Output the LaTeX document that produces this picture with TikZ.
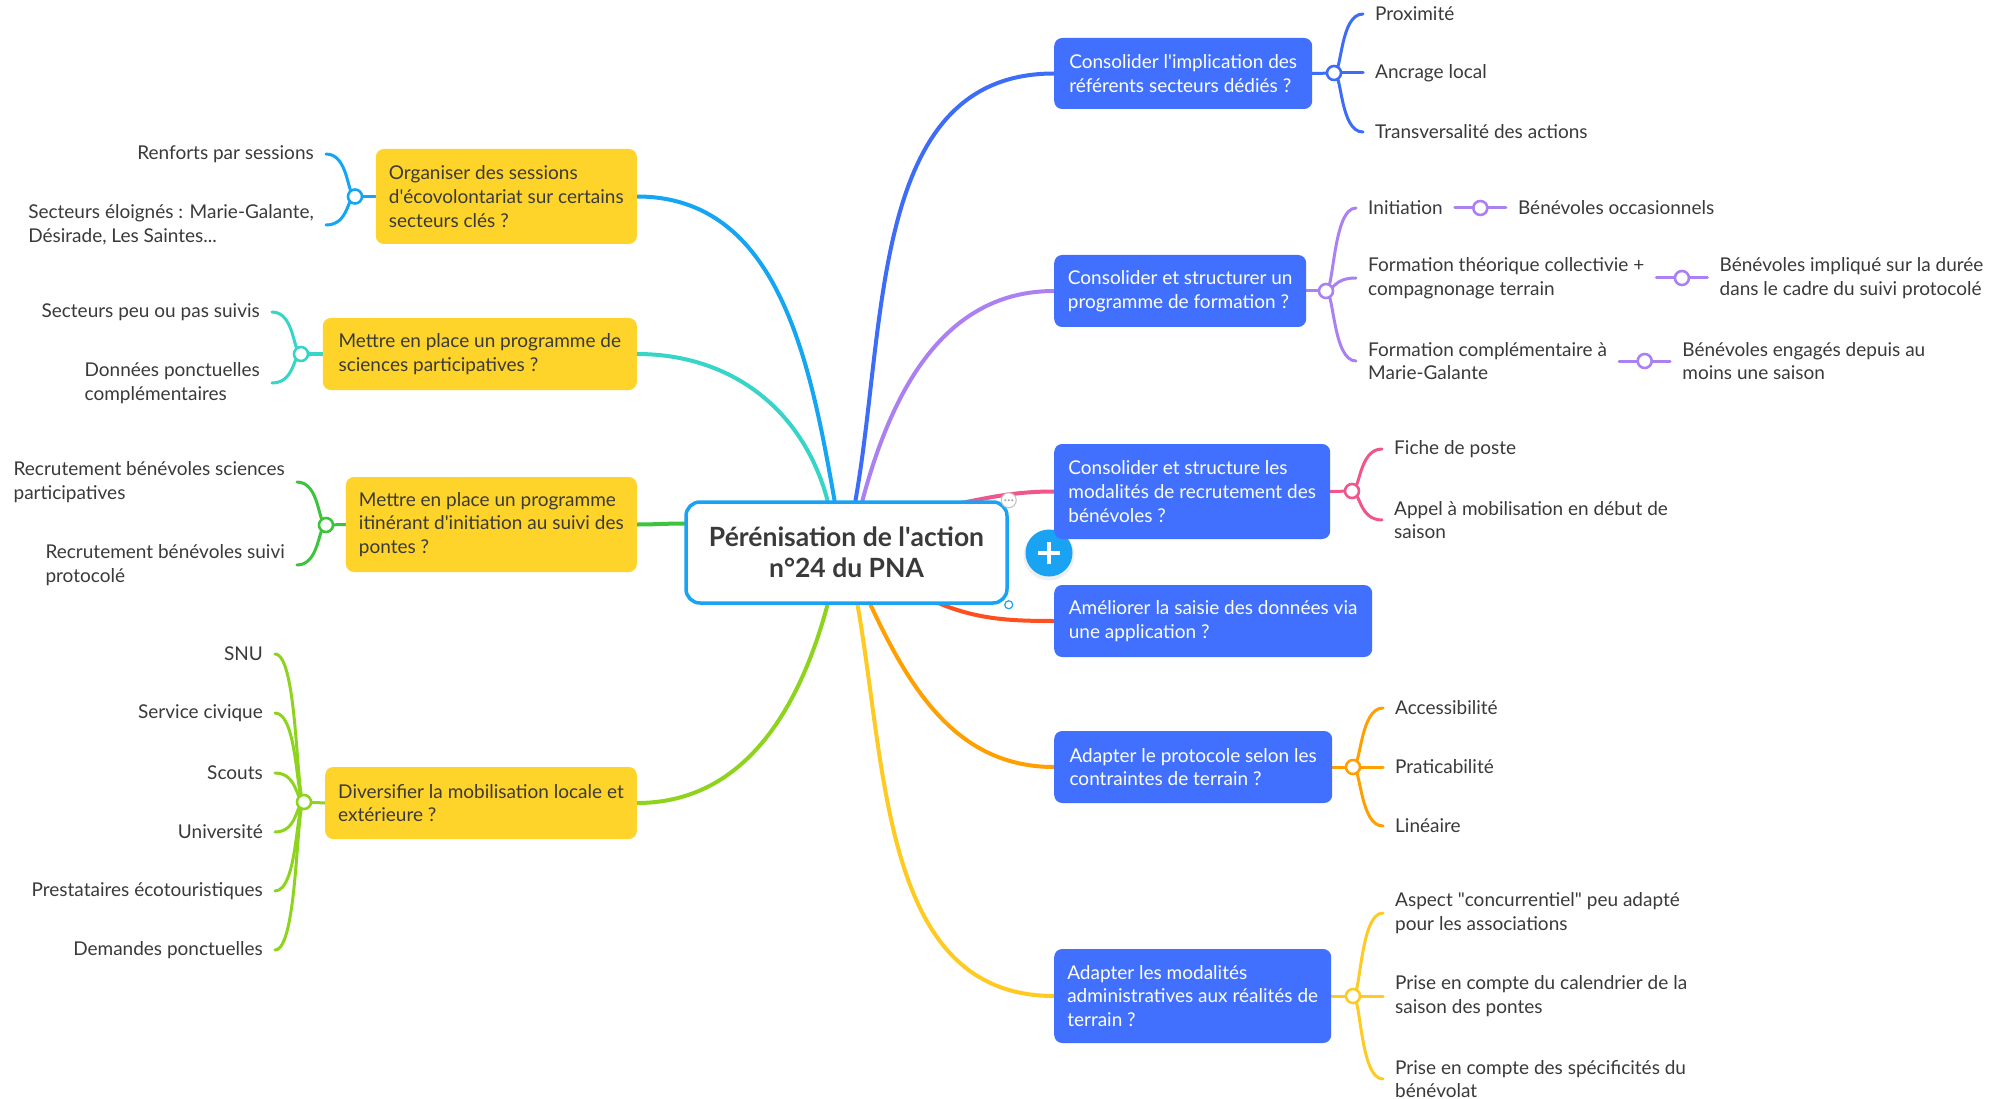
\documentclass[tikz,border=0pt]{standalone}
\usepackage{fontspec}
\setmainfont{Lato}
\usetikzlibrary{calc}
\pgfdeclarelayer{bgfill}
\pgfdeclarelayer{links}
\pgfsetlayers{bgfill,links,main}
\definecolor{ybox}{HTML}{FFD42A}
\definecolor{bbox}{HTML}{4170FF}
\definecolor{txt}{HTML}{3A3A3A}
\definecolor{cborder}{HTML}{1BA3F3}
\definecolor{lkA}{HTML}{14A6F2}
\definecolor{lkB}{HTML}{36D5C8}
\definecolor{lkC}{HTML}{3CC43C}
\definecolor{lkD}{HTML}{8ED41E}
\definecolor{lkE}{HTML}{3D6DF8}
\definecolor{lkF}{HTML}{AA80F2}
\definecolor{lkG}{HTML}{F0568C}
\definecolor{lkH}{HTML}{FF4F1E}
\definecolor{lkI}{HTML}{FFA000}
\definecolor{lkJ}{HTML}{FFCB22}
\newcommand\brL[3]{\draw[br,#1] (#2.center) to[out=180,in=0,out distance=8pt,in distance=23pt] (#3.east);}
\newcommand\brR[3]{\draw[br,#1] (#2.center) to[out=0,in=180,out distance=8pt,in distance=23pt] (#3.west);}
\newcommand\apo{\textquotesingle}
\begin{document}
\begin{tikzpicture}[x=1pt,y=1pt,
  every node/.style={font=\fontsize{19}{23.7}\selectfont},
  ybx/.style={fill=ybox, rounded corners=8pt, text=txt, align=left, inner xsep=13pt, inner ysep=0pt, anchor=east},
  bbx/.style={fill=bbox, rounded corners=8pt, text=white, align=left, inner xsep=13pt, inner ysep=0pt, anchor=west},
  lfL/.style={text=txt, align=left, anchor=east, inner xsep=12pt, inner ysep=1pt},
  lfR/.style={text=txt, align=left, anchor=west, inner xsep=12pt, inner ysep=1pt},
  jn/.style={circle, draw, line width=2.6pt, fill=white, minimum size=14pt, inner sep=0pt},
  lnk/.style={line width=4pt, line cap=round},
  br/.style={line width=3pt, line cap=round},
]
\useasboundingbox (0,0) rectangle (2011,-1099);
\begin{pgfonlayer}{bgfill}
\fill[white] (0,0) rectangle (2011,-1099);
\end{pgfonlayer}

% central node
\node[draw=cborder, line width=3.5pt, fill=white, rounded corners=14pt, minimum width=321pt, minimum height=101pt, align=center, font=\fontsize{26.5}{31}\selectfont\bfseries, text=txt] (ctr) at (846.5,-552.5) {Pérénisation de l\apo action\\n°24 du PNA};
\node[circle, draw=gray!50, line width=1pt, fill=white, minimum size=15pt, inner sep=0pt] (dots) at (ctr.north east) {};
\foreach \dx in {-3.5,0,3.5} \fill[gray!70] ($(dots.center)+(\dx,0)$) circle (1.1pt);
\node[circle, draw=cborder, line width=1.2pt, fill=white, minimum size=8pt, inner sep=0pt] (hdl) at (ctr.south east) {};
\node[circle, fill=black!12, minimum size=51pt, inner sep=0pt, opacity=0.5] (plush) at (1049,-555) {};
\node[circle, fill=cborder, minimum size=47pt, inner sep=0pt] (plus) at (1049,-553) {};
\draw[white, line width=4pt] ($(plus.center)+(-11,0)$) -- ($(plus.center)+(11,0)$);
\draw[white, line width=4pt] ($(plus.center)+(0,-11)$) -- ($(plus.center)+(0,11)$);

% left boxes
\node[ybx, minimum width=261pt, minimum height=95pt] (y1) at (637,-196.5) {Organiser des sessions\\d\apo écovolontariat sur certains\\secteurs clés~?};
\node[ybx, minimum width=314pt, minimum height=72pt] (y2) at (637,-354) {Mettre en place un programme de\\sciences participatives~?};
\node[ybx, minimum width=289pt, minimum height=95pt] (y3) at (637,-524.5) {Mettre en place un programme\\itinérant d\apo initiation au suivi des\\pontes~?};
\node[ybx, minimum width=311pt, minimum height=72pt] (y4) at (637,-803) {Diversifier la mobilisation locale et\\extérieure~?};

% right boxes
\node[bbx, minimum width=258pt, minimum height=71pt] (r1) at (1054,-73.5) {Consolider l\apo implication des\\référents secteurs dédiés~?};
\node[bbx, minimum width=252pt, minimum height=72pt] (r2) at (1054,-291) {Consolider et structurer un\\programme de formation~?};
\node[bbx, minimum width=276pt, minimum height=95pt] (r3) at (1054,-491.5) {Consolider et structure les\\modalités de recrutement des\\bénévoles~?};
\node[bbx, minimum width=318pt, minimum height=72pt] (r4) at (1054,-621) {Améliorer la saisie des données via\\une application~?};
\node[bbx, minimum width=278pt, minimum height=72pt] (r5) at (1054,-767) {Adapter le protocole selon les\\contraintes de terrain~?};
\node[bbx, minimum width=277pt, minimum height=94pt] (r6) at (1054,-996) {Adapter les modalités\\administratives aux réalités de\\terrain~?};

% junctions
\node[jn, draw=lkA] (j1) at (355,-196.5) {};
\node[jn, draw=lkB] (j2) at (301,-354) {};
\node[jn, draw=lkC] (j3) at (326,-525) {};
\node[jn, draw=lkD] (j4) at (304,-802) {};
\node[jn, draw=lkE] (k1) at (1334,-73) {};
\node[jn, draw=lkF] (k2) at (1326,-291) {};
\node[jn, draw=lkG] (k3) at (1352,-491) {};
\node[jn, draw=lkI] (k5) at (1353,-767) {};
\node[jn, draw=lkJ] (k6) at (1353,-996) {};

% left leaves
\node[lfL] (l11) at (326,-154) {Renforts par sessions};
\node[lfL] (l12) at (326,-225) {Secteurs éloignés : Marie-Galante,\\Désirade, Les Saintes...};
\node[lfL] (l21) at (272,-312) {Secteurs peu ou pas suivis};
\node[lfL] (l22) at (272,-383) {Données ponctuelles\\complémentaires};
\node[lfL] (l31) at (297,-482) {Recrutement bénévoles sciences\\participatives};
\node[lfL] (l32) at (297,-565) {Recrutement bénévoles suivi\\protocolé};
\node[lfL] (l41) at (275,-654) {SNU};
\node[lfL] (l42) at (275,-713) {Service civique};
\node[lfL] (l43) at (275,-773) {Scouts};
\node[lfL] (l44) at (275,-832) {Université};
\node[lfL] (l45) at (275,-891) {Prestataires écotouristiques};
\node[lfL] (l46) at (275,-950) {Demandes ponctuelles};

% right leaves
\node[lfR] (m11) at (1363,-14) {Proximité};
\node[lfR] (m12) at (1363,-73) {Ancrage local};
\node[lfR] (m13) at (1363,-132) {Transversalité des actions};
\node[lfR] (m21) at (1356,-208) {Initiation};
\node[lfR] (m22) at (1356,-278) {Formation théorique collectivie +\\compagnonage terrain};
\node[lfR] (m23) at (1356,-361) {Formation complémentaire à\\Marie-Galante};
\node[lfR, anchor=west] (n21) at ($(m21.east)+(51,0)$) {Bénévoles occasionnels};
\node[lfR, anchor=west] (n22) at ($(m22.east)+(51,0)$) {Bénévoles impliqué sur la durée\\dans le cadre du suivi protocolé};
\node[lfR, anchor=west] (n23) at ($(m23.east)+(51,0)$) {Bénévoles engagés depuis au\\moins une saison};
\node[jn, draw=lkF] (q1) at ($(m21.east)!0.5!(n21.west)$) {};
\node[jn, draw=lkF] (q2) at ($(m22.east)!0.5!(n22.west)$) {};
\node[jn, draw=lkF] (q3) at ($(m23.east)!0.5!(n23.west)$) {};
\node[lfR] (m31) at (1382,-449) {Fiche de poste};
\node[lfR] (m32) at (1382,-520) {Appel à mobilisation en début de\\saison};
\node[lfR] (m51) at (1383,-708) {Accessibilité};
\node[lfR] (m52) at (1383,-767) {Praticabilité};
\node[lfR] (m53) at (1383,-826) {Linéaire};
\node[lfR] (m61) at (1383,-913) {Aspect \textquotedbl concurrentiel\textquotedbl{} peu adapté\\pour les associations};
\node[lfR] (m62) at (1383,-996) {Prise en compte du calendrier de la\\saison des pontes};
\node[lfR] (m63) at (1383,-1079) {Prise en compte des spécificités du\\bénévolat};

\begin{pgfonlayer}{links}
% main connectors
\draw[lnk, lkA] ($(ctr.north)+(-12,0)$) to[out=100,in=0] (y1.east);
\draw[lnk, lkB] ($(ctr.north)+(-19,0)$) to[out=105,in=0] (y2.east);
\draw[lnk, lkC] ($(ctr.west)+(0,29)$) to[out=180,in=0] (y3.east);
\draw[lnk, lkD] ($(ctr.south)+(-19,0)$) to[out=-105,in=0] (y4.east);
\draw[lnk, lkE] ($(ctr.north)+(9,0)$) to[out=80,in=180] (r1.west);
\draw[lnk, lkF] ($(ctr.north)+(16,0)$) to[out=75,in=180] (r2.west);
\draw[lnk, lkG] ($(ctr.north east)+(-75,-8)$) to[out=10,in=180] (r3.west);
\draw[lnk, lkH] ($(ctr.south east)+(-85,8)$) to[out=-25,in=180] (r4.west);
\draw[lnk, lkI] ($(ctr.south)+(24,0)$) to[out=-65,in=180] (r5.west);
\draw[lnk, lkJ] ($(ctr.south)+(11,0)$) to[out=-80,in=180] (r6.west);
% stubs
\draw[br, lkA] (y1.west) -- (j1.center);
\draw[br, lkB] (y2.west) -- (j2.center);
\draw[br, lkC] (y3.west) -- (j3.center);
\draw[br, lkD] (y4.west) -- (j4.center);
\draw[br, lkE] (r1.east) -- (k1.center);
\draw[br, lkF] (r2.east) -- (k2.center);
\draw[br, lkG] (r3.east) -- (k3.center);
\draw[br, lkI] (r5.east) -- (k5.center);
\draw[br, lkJ] (r6.east) -- (k6.center);
% branches
\brL{lkA}{j1}{l11}\brL{lkA}{j1}{l12}
\brL{lkB}{j2}{l21}\brL{lkB}{j2}{l22}
\brL{lkC}{j3}{l31}\brL{lkC}{j3}{l32}
\brL{lkD}{j4}{l41}\brL{lkD}{j4}{l42}\brL{lkD}{j4}{l43}
\brL{lkD}{j4}{l44}\brL{lkD}{j4}{l45}\brL{lkD}{j4}{l46}
\brR{lkE}{k1}{m11}\brR{lkE}{k1}{m12}\brR{lkE}{k1}{m13}
\brR{lkF}{k2}{m21}\brR{lkF}{k2}{m22}\brR{lkF}{k2}{m23}
\brR{lkG}{k3}{m31}\brR{lkG}{k3}{m32}
\brR{lkI}{k5}{m51}\brR{lkI}{k5}{m52}\brR{lkI}{k5}{m53}
\brR{lkJ}{k6}{m61}\brR{lkJ}{k6}{m62}\brR{lkJ}{k6}{m63}
\draw[br, lkF] (m21.east) -- (n21.west);
\draw[br, lkF] (m22.east) -- (n22.west);
\draw[br, lkF] (m23.east) -- (n23.west);
\end{pgfonlayer}
\end{tikzpicture}
\end{document}
